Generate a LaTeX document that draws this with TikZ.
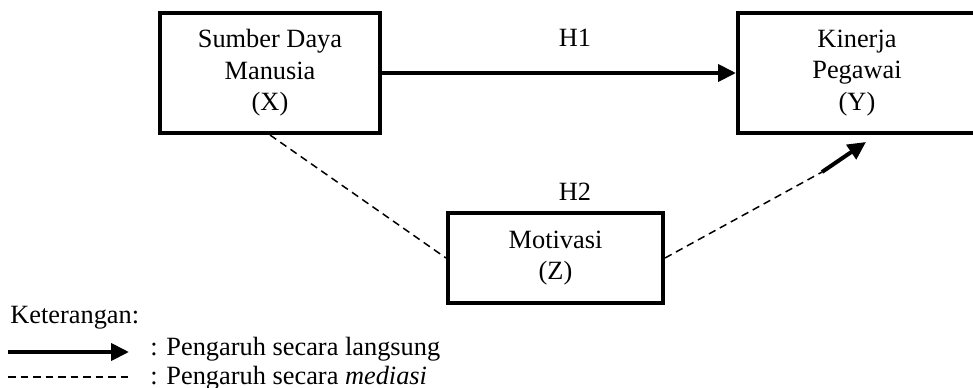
\documentclass[tikz,border=0pt]{standalone}
\usepackage{fontspec}
\setmainfont{Liberation Serif}
\usetikzlibrary{arrows.meta, positioning}

\begin{document}
\begin{tikzpicture}[x=0.2mm, y=-0.2mm,
  box/.style={rectangle, draw=black, line width=0.8mm, text=black, align=center,
              font=\fontsize{15}{18}\selectfont},
  lbl/.style={font=\fontsize{15}{18}\selectfont},
  legend/.style={font=\fontsize{15}{18}\selectfont, anchor=base west, inner sep=0pt},
  direct/.style={line width=0.8mm, -{Triangle[length=3.6mm, width=3.4mm]}},
  mediated/.style={line width=0.3mm, dash pattern=on 1.5mm off 1mm}]
  \useasboundingbox (0, 0) rectangle (973, 387);

  \node[box, minimum width=44mm, minimum height=24mm]     (x)  at (270, 73)   {Sumber Daya\\Manusia\\(X)};
  \node[box, minimum width=47.6mm, minimum height=24mm]   (y)  at (857, 73)   {Kinerja\\Pegawai\\(Y)};
  \node[box, minimum width=43mm, minimum height=18mm]     (z)  at (555.5, 258) {Motivasi\\(Z)};
  \node[lbl]                                              (h1) at (575, 38)   {H1};
  \node[lbl]                                              (h2) at (575, 192)  {H2};
  \coordinate                                             (m)  at (822, 172);
  \coordinate                                             (t)  at (866, 142);

  \draw[direct]   (x) -- (y);
  \draw[mediated] (x.south) -- (z.west);
  \draw[mediated] (z.east) -- (m);
  \draw[direct]   (m) -- (t);

  % legend
  \node[legend]                                           (k)  at (10, 323)   {Keterangan:};
  \coordinate                                             (a1) at (8, 352);
  \coordinate                                             (a2) at (129, 352);
  \coordinate                                             (b1) at (8, 377);
  \coordinate                                             (b2) at (129, 377);
  \node[legend]                                           (d)  at (150, 355)  {: Pengaruh secara langsung};
  \node[legend]                                           (e)  at (150, 384)  {: Pengaruh secara \textit{mediasi}};

  \draw[direct]   (a1) -- (a2);
  \draw[mediated] (b1) -- (b2);
\end{tikzpicture}
\end{document}
